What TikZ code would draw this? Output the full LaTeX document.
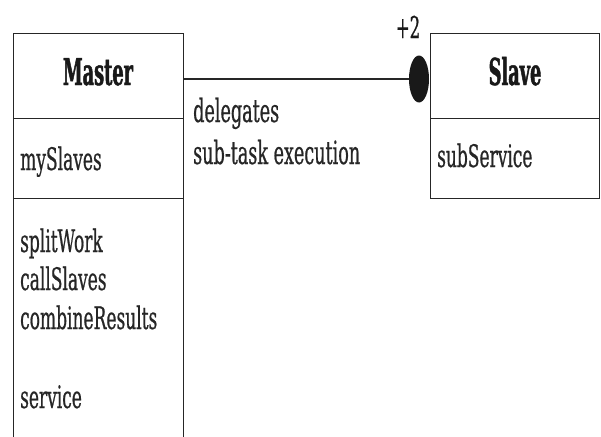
\documentclass[tikz,border=0pt]{standalone}
\usepackage{fontspec}
\setmainfont{DejaVu Serif}[FakeStretch=0.55, FakeBold=0.6]
\newfontfamily\headfont{DejaVu Serif}[FakeStretch=0.48, BoldFeatures={FakeBold=1.2}]
\usetikzlibrary{shapes.geometric}
\begin{document}
\begin{tikzpicture}[x=1pt,y=-1pt,
  compart/.style={draw=black!85, line width=1.3pt, rectangle, inner sep=0pt, anchor=north west},
  classname/.style={anchor=base, inner sep=0pt, font=\fontsize{37}{42}\headfont\bfseries, text=black!90},
  member/.style={anchor=base west, inner sep=0pt, font=\fontsize{31}{36}\selectfont, text=black!85},
  assoclabel/.style={anchor=base west, inner sep=0pt, font=\fontsize{32}{38}\selectfont, text=black!85},
  conn/.style={draw=black!85, line width=1.8pt},
  aggdot/.style={ellipse, fill=black!90, inner sep=0pt, minimum width=20pt, minimum height=47pt}]
\useasboundingbox (0,0) rectangle (601,436);

% Master class: name, attribute and operation compartments
\node[compart, minimum width=170pt, minimum height=85pt]  (mhead) at (13,33)  {};
\node[compart, minimum width=170pt, minimum height=80pt]  (mattr) at (13,118) {};
\node[compart, minimum width=170pt, minimum height=316pt] (mops)  at (13,198) {};
\node[classname] (mname) at (98,85) {Master};
\node[member] (mslaves)  at (20,170) {mySlaves};
\node[member] (msplit)   at (20,252) {splitWork};
\node[member] (mcall)    at (20,290) {callSlaves};
\node[member] (mcombine) at (20,329) {combineResults};
\node[member] (mservice) at (20,408) {service};

% Slave class
\node[compart, minimum width=169pt, minimum height=85pt] (shead) at (430,33)  {};
\node[compart, minimum width=169pt, minimum height=80pt] (sattr) at (430,118) {};
\node[classname] (sname) at (515,85) {Slave};
\node[member] (ssub) at (437,167) {subService};

% Association with multiplicity dot
\node[aggdot] (dot) at (419,79) {};
\draw[conn] (mhead.east |- dot) -- (dot.west);
\node[anchor=base, inner sep=0pt, font=\fontsize{30}{34}\selectfont, text=black!90] (mult) at (408,38) {+2};
\node[assoclabel] (lbl1) at (193,122) {delegates};
\node[assoclabel] (lbl2) at (193,164) {sub-task execution};
\end{tikzpicture}
\end{document}
